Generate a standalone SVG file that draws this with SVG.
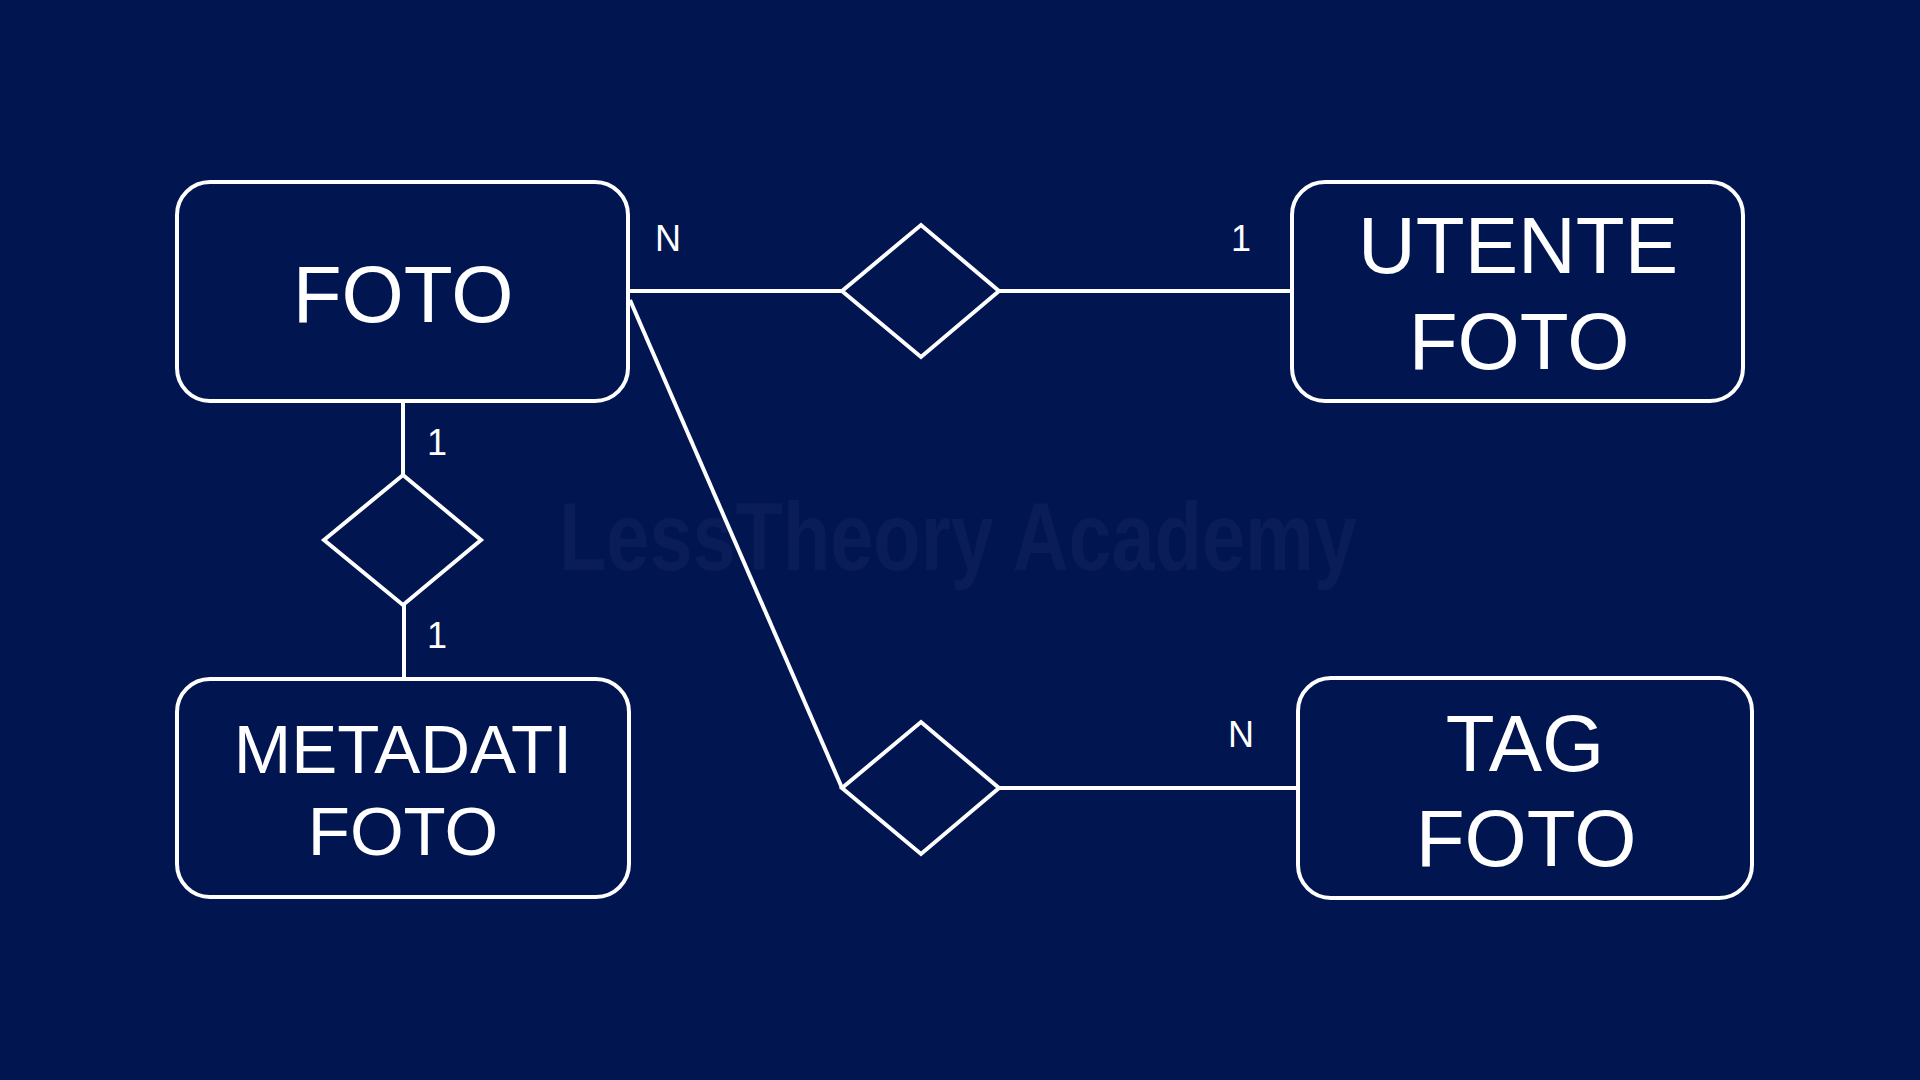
<svg xmlns="http://www.w3.org/2000/svg" width="1920" height="1080" viewBox="0 0 1920 1080">
<style>
.bg{fill:#011650}
.box{fill:#011650;stroke:#ffffff;stroke-width:4}
.ln{stroke:#ffffff;stroke-width:4;fill:none}
.dia{fill:#011650;stroke:#ffffff;stroke-width:4;stroke-linejoin:miter}
.t{font-family:"Liberation Sans",Arial,sans-serif;fill:#ffffff;text-anchor:middle}
.big{font-size:80px}
.mid{font-size:69px}
.lbl{font-family:"Liberation Sans",Arial,sans-serif;fill:#ffffff;text-anchor:middle;font-size:36px}
.wm{font-family:"Liberation Sans",Arial,sans-serif;font-weight:bold;font-size:96px;fill:#0a1d58}
</style>
<rect class="bg" x="0" y="0" width="1920" height="1080"/>
<text class="wm" x="559" y="570" textLength="798" lengthAdjust="spacingAndGlyphs">LessTheory Academy</text>
<g id="connectors">
<line class="ln" x1="628" y1="291" x2="842" y2="291"/>
<line class="ln" x1="999" y1="291" x2="1292" y2="291"/>
<line class="ln" x1="403" y1="401" x2="403" y2="475"/>
<line class="ln" x1="404" y1="605" x2="404" y2="679"/>
<line class="ln" x1="630" y1="300" x2="842" y2="788"/>
<line class="ln" x1="999" y1="788" x2="1298" y2="788"/>
<text class="lbl" x="668" y="251">N</text>
<text class="lbl" x="1241" y="251">1</text>
<text class="lbl" x="437" y="455">1</text>
<text class="lbl" x="437" y="648">1</text>
<text class="lbl" x="1241" y="747">N</text>
</g>
<g id="rel-utente">
<polygon class="dia" points="842,291 921,225 999,291 921,357"/>
</g>
<g id="rel-metadati">
<polygon class="dia" points="324,540 403,475 481,540 403,605"/>
</g>
<g id="rel-tag">
<polygon class="dia" points="842,788 921,722 999,788 921,854"/>
</g>
<g id="foto">
<rect class="box" x="177" y="182" width="451" height="219" rx="33"/>
<text class="t big" x="403" y="322">FOTO</text>
</g>
<g id="utente-foto">
<rect class="box" x="1292" y="182" width="451" height="219" rx="33"/>
<text class="t big" x="1518" y="273">UTENTE</text>
<text class="t big" x="1519" y="369">FOTO</text>
</g>
<g id="metadati-foto">
<rect class="box" x="177" y="679" width="452" height="218" rx="33"/>
<text class="t mid" x="403" y="773">METADATI</text>
<text class="t mid" x="403" y="855">FOTO</text>
</g>
<g id="tag-foto">
<rect class="box" x="1298" y="678" width="454" height="220" rx="33"/>
<text class="t big" x="1525" y="771">TAG</text>
<text class="t big" x="1526" y="866">FOTO</text>
</g>
</svg>
